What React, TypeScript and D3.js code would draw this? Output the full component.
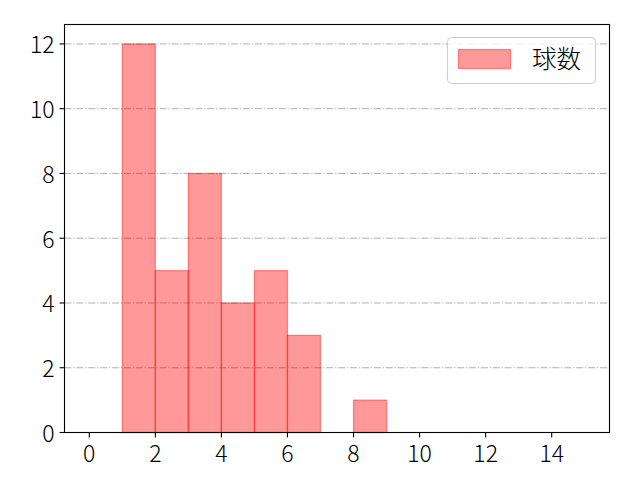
import React from 'react';
import * as d3 from 'd3';

// histogram bins (left edge) and counts
const binStarts = [0, 1, 2, 3, 4, 5, 6, 7, 8, 9, 10, 11, 12, 13, 14];
const counts = [0, 12, 5, 8, 4, 5, 3, 0, 1, 0, 0, 0, 0, 0, 0];
const xTicks = [0, 2, 4, 6, 8, 10, 12, 14];
const yTicks = [0, 2, 4, 6, 8, 10, 12];
const seriesLabel = '球数';

const W = 640;
const H = 480;
const margin = { top: 24.5, right: 30.5, bottom: 47.5, left: 64.5 };
const font = '"Noto Sans CJK JP", "Noto Sans", sans-serif';

export default function App() {
  const x = d3.scaleLinear().domain([-0.75, 15.75]).range([margin.left, W - margin.right]);
  const y = d3.scaleLinear().domain([0, 12.6]).range([H - margin.bottom, margin.top]);
  const x0 = margin.left;
  const x1 = W - margin.right;
  const y0 = y(0);
  const y1 = margin.top;

  return (
    <svg
      width={W}
      height={H}
      style={{ position: 'absolute', left: 0, top: 0, display: 'block', background: '#fff' }}
      fontFamily={font}
      fontWeight={300}
    >
      {/* grid */}
      <g>
        {yTicks.map(t => (
          <line
            key={t}
            x1={x0}
            x2={x1}
            y1={y(t)}
            y2={y(t)}
            stroke="#b0b0b0"
            strokeWidth={1}
            strokeDasharray="7,1.8,1.3,1.8"
          />
        ))}
      </g>

      {/* bars */}
      <g>
        {binStarts.map((b, i) => (
          <rect
            key={b}
            x={x(b)}
            y={y(counts[i])}
            width={x(b + 1) - x(b)}
            height={y0 - y(counts[i])}
            fill="#ff0000"
            fillOpacity={0.4}
            stroke="#ff0000"
            strokeOpacity={0.4}
            strokeWidth={1.3}
          />
        ))}
      </g>

      {/* frame */}
      <rect x={x0} y={y1} width={x1 - x0} height={y0 - y1} fill="none" stroke="#000" strokeWidth={1.1} />

      {/* x axis */}
      <g>
        {xTicks.map(t => (
          <g key={t} transform={`translate(${x(t)},${y0})`}>
            <line y1={0} y2={4.9} stroke="#000" strokeWidth={1.1} />
            <text y={29.5} textAnchor="middle" fontSize={23} fill="#000">{t}</text>
          </g>
        ))}
      </g>

      {/* y axis */}
      <g>
        {yTicks.map(t => (
          <g key={t} transform={`translate(${x0},${y(t)})`}>
            <line x1={0} x2={-4.9} stroke="#000" strokeWidth={1.1} />
            <text x={-10} y={9.5} textAnchor="end" fontSize={23} fill="#000">{t}</text>
          </g>
        ))}
      </g>

      {/* legend */}
      <g>
        <rect x={447.5} y={37.5} width={148} height={46} rx={4} fill="#fff" fillOpacity={0.8} stroke="#cccccc" strokeWidth={1} />
        <rect
          x={458.5}
          y={49.5}
          width={52}
          height={19}
          fill="#ff0000"
          fillOpacity={0.4}
          stroke="#ff0000"
          strokeOpacity={0.4}
          strokeWidth={1.3}
        />
        <text x={532} y={68} fontSize={24.5} fill="#000">{seriesLabel}</text>
      </g>
    </svg>
  );
}
